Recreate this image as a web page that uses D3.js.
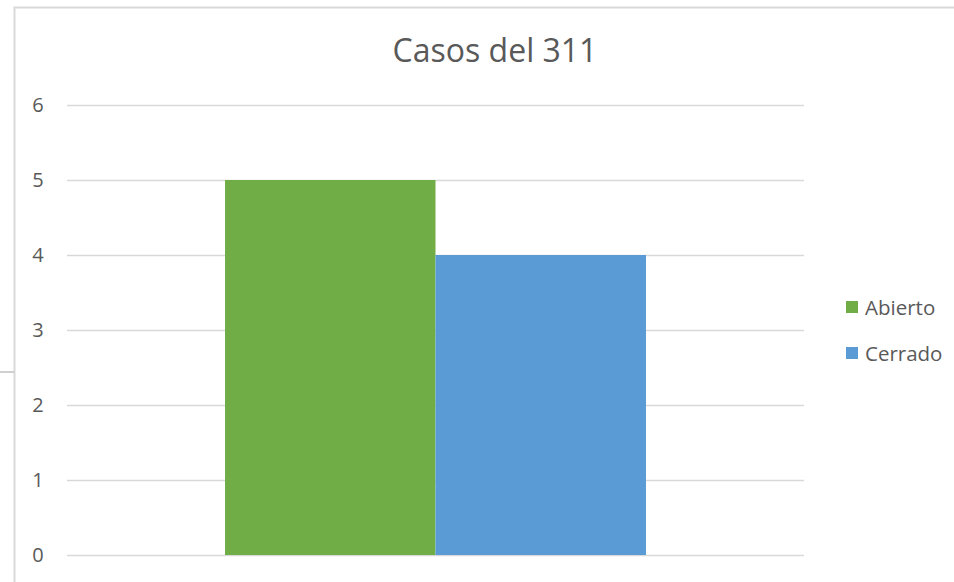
<!DOCTYPE html>
<html>
<head>
<meta charset="utf-8">
<script src="https://cdn.jsdelivr.net/npm/d3@7"></script>
<style>
	body { margin: 0; background: #fff; }
	svg text { font-family: "Open Sans", sans-serif; fill: #595959; }
</style>
</head>
<body>
<div id="vis"></div>
<script>
// data
const categories = ["Casos"];
const seriesNames = ["Abierto", "Cerrado"];
const seriesValues = [5, 4];
const yTicks = [0, 1, 2, 3, 4, 5, 6];
const colors = ["#70AD47", "#5B9BD5"];

const W = 954, H = 582;
const plot = { left: 67, right: 804, top: 105, bottom: 555 };

const svg = d3.select("#vis").append("svg")
	.attr("width", W)
	.attr("height", H);

// chart frame (cropped at the edges)
svg.append("path")
	.attr("d", `M${W},7.5 H14.5 V${H}`)
	.attr("fill", "none")
	.attr("stroke", "#D9D9D9")
	.attr("stroke-width", 2);
svg.append("line")
	.attr("x1", 0).attr("x2", 14)
	.attr("y1", 372).attr("y2", 372)
	.attr("stroke", "#BFBFBF")
	.attr("stroke-width", 1.5);

const y = d3.scaleLinear().domain([0, 6]).range([plot.bottom, plot.top]);
const x0 = d3.scaleBand().domain(categories).range([plot.left, plot.right]).paddingInner(0).paddingOuter(0.3754);
const x1 = d3.scaleBand().domain(seriesNames).range([0, x0.bandwidth()]);

// gridlines + labels
const yAxis = d3.axisLeft(y)
	.tickValues(yTicks)
	.tickSize(-(plot.right - plot.left))
	.tickPadding(24)
	.tickFormat(d3.format("d"));

const ga = svg.append("g")
	.attr("transform", `translate(${plot.left},0)`)
	.call(yAxis);
ga.select(".domain").remove();
ga.selectAll(".tick line").attr("stroke", "#D9D9D9").attr("stroke-width", 1.5);
ga.selectAll(".tick text")
	.attr("font-size", 20)
	.attr("fill", "#595959")
	.attr("text-anchor", "middle")
	.attr("x", -29);

// bars
const grp = svg.append("g")
	.selectAll("g")
	.data(categories)
	.join("g")
	.attr("transform", d => `translate(${x0(d)},0)`);

grp.selectAll("rect")
	.data(() => seriesNames.map((s, i) => ({ s, v: seriesValues[i], c: colors[i] })))
	.join("rect")
	.attr("x", d => x1(d.s))
	.attr("y", d => y(d.v))
	.attr("width", x1.bandwidth())
	.attr("height", d => y(0) - y(d.v))
	.attr("fill", d => d.c);

// title
svg.append("text")
	.attr("x", 495)
	.attr("y", 62)
	.attr("text-anchor", "middle")
	.attr("font-size", 32)
	.text("Casos del 311");

// legend
const leg = svg.append("g")
	.selectAll("g")
	.data(seriesNames)
	.join("g")
	.attr("transform", (d, i) => `translate(846,${301 + i * 46})`);
leg.append("rect")
	.attr("width", 12).attr("height", 12)
	.attr("fill", (d, i) => colors[i]);
leg.append("text")
	.attr("x", 19)
	.attr("y", 14)
	.attr("font-size", 20.5)
	.text(d => d);
</script>
</body>
</html>
